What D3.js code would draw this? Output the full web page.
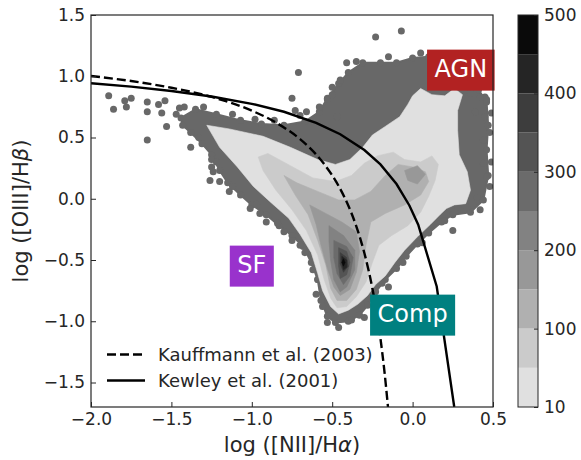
<!DOCTYPE html>
<html>
<head>
<meta charset="utf-8">
<script src="https://cdn.jsdelivr.net/npm/d3@7"></script>
<style>
  body { margin: 0; background: #fff; }
  text { font-family: "DejaVu Sans", sans-serif; }
</style>
</head>
<body>
<svg id="chart" width="581" height="460"></svg>
<script>
// axis ticks
const xTicks = [-2.0, -1.5, -1.0, -0.5, 0.0, 0.5];
const yTicks = [-1.5, -1.0, -0.5, 0.0, 0.5, 1.0, 1.5];

// contour levels (colorbar) and tick labels
const levels = [10, 50, 100, 150, 200, 250, 300, 350, 400, 450, 500];
const cbTicks = [10, 100, 200, 300, 400, 500];

// demarcation lines
const kaufX = [-2.0, -1.75, -1.5, -1.25, -1.0, -0.85, -0.7, -0.65, -0.6, -0.55, -0.5, -0.46, -0.42, -0.385, -0.35, -0.325, -0.3, -0.275, -0.25, -0.225, -0.2, -0.175, -0.153];
const kaufY = [1.002, 0.961, 0.906, 0.831, 0.719, 0.622, 0.487, 0.429, 0.362, 0.283, 0.191, 0.104, 0.002, -0.102, -0.225, -0.327, -0.443, -0.577, -0.733, -0.918, -1.14, -1.411, -1.70];
const kewX = [-2.0, -1.75, -1.5, -1.25, -1.0, -0.8, -0.6, -0.45, -0.3, -0.2, -0.1, -0.02, 0.035, 0.15, 0.259];
const kewY = [0.943, 0.915, 0.880, 0.835, 0.775, 0.710, 0.620, 0.527, 0.398, 0.280, 0.120, -0.055, -0.212, -0.716, -1.70];

// outer envelope of the individual (low density) galaxies
const envelope = [[-1.44,0.66],[-1.35,0.73],[-1.22,0.69],[-1.07,0.64],[-0.94,0.61],[-0.80,0.60],[-0.67,0.63],[-0.58,0.71],[-0.53,0.82],[-0.46,0.94],[-0.40,1.03],[-0.31,1.11],[-0.20,1.11],[-0.10,1.11],[0.00,1.15],[0.10,1.16],[0.30,1.11],[0.41,0.89],[0.46,0.79],[0.47,0.60],[0.46,0.40],[0.47,0.19],[0.44,-0.01],[0.36,-0.11],[0.25,-0.13],[0.18,-0.19],[0.10,-0.28],[0.03,-0.37],[-0.04,-0.47],[-0.10,-0.57],[-0.17,-0.66],[-0.23,-0.76],[-0.28,-0.87],[-0.33,-0.95],[-0.40,-1.00],[-0.48,-1.01],[-0.53,-0.96],[-0.57,-0.83],[-0.59,-0.66],[-0.63,-0.52],[-0.68,-0.39],[-0.75,-0.30],[-0.83,-0.22],[-0.91,-0.13],[-1.00,-0.05],[-1.07,0.03],[-1.15,0.13],[-1.20,0.23],[-1.25,0.36],[-1.31,0.45],[-1.38,0.54],[-1.43,0.60]];

// isolated galaxies outside the envelope
const strays = [[-1.89,0.84],[-1.86,0.73],[-1.79,0.80],[-1.78,0.75],[-1.75,0.82],[-1.65,0.79],[-1.65,0.71],[-1.65,0.48],[-1.58,0.77],[-1.56,0.70],[-1.54,0.80],[-1.53,0.59],[-1.47,0.69],[-1.45,0.74],[-1.42,0.75],[-1.38,0.42],[-1.26,0.15],[-1.20,0.14],[-1.14,0.06],[-1.25,0.26],[-1.25,0.32],[-1.24,0.22],[-1.01,-0.08],[-0.95,-0.12],[-0.91,-0.19],[-0.84,-0.20],[-0.75,0.82],[-0.73,0.72],[-0.66,0.71],[-0.58,0.75],[-0.53,0.81],[-0.50,0.85],[-0.47,0.67],[-0.23,1.32],[-0.07,1.37],[-0.71,1.03],[0.45,0.83],[0.48,0.54],[-0.41,1.11],[-0.50,0.91],[-0.45,0.97],[0.36,0.86],[0.42,0.83],[0.46,0.81],[0.44,0.48],[0.44,0.29],[0.46,0.18],[0.48,0.10],[0.40,0.01],[0.42,-0.09],[0.39,0.71],[0.45,0.67],[-0.75,-0.34],[-0.67,-0.44],[-0.59,-0.66],[-0.56,-0.88],[-0.53,-1.01],[-0.46,-1.05],[-0.38,-0.99],[-0.30,-0.97],[0.25,-0.26],[0.28,-0.07],[0.34,-0.07],[-0.15,-0.72],[-0.19,-0.69],
  [-1.30,0.75],[-1.12,0.69],[-0.98,0.65],[-0.86,0.64],[-0.70,0.68],[-1.33,0.50],[-1.22,0.30],[-1.12,0.10],[-0.97,-0.04],[-0.80,-0.27],[-0.70,-0.38],[-0.62,-0.58],[-0.60,-0.78],[-0.35,1.12],[-0.15,1.16],[0.05,1.19],[0.49,0.70],[0.49,0.30],[0.20,-0.18],[0.06,-0.36],[-0.06,-0.52]];

// filled density contours, one array of polygons per level
const band10 = [[[-1.28,0.60],[-1.14,0.57],[-0.93,0.51],[-0.76,0.42],[-0.59,0.32],[-0.48,0.28],[-0.39,0.32],[-0.31,0.42],[-0.25,0.52],[-0.17,0.59],[-0.08,0.67],[-0.03,0.77],[0.00,0.84],[0.05,0.90],[0.12,0.85],[0.20,0.84],[0.26,0.90],[0.31,0.85],[0.28,0.72],[0.28,0.56],[0.29,0.36],[0.34,0.22],[0.36,0.07],[0.33,-0.04],[0.26,-0.05],[0.21,-0.08],[0.17,-0.13],[0.11,-0.21],[0.03,-0.31],[-0.05,-0.42],[-0.11,-0.52],[-0.17,-0.63],[-0.23,-0.70],[-0.28,-0.79],[-0.34,-0.86],[-0.40,-0.91],[-0.46,-0.94],[-0.51,-0.88],[-0.56,-0.75],[-0.59,-0.61],[-0.63,-0.44],[-0.70,-0.29],[-0.77,-0.16],[-0.89,-0.02],[-0.99,0.10],[-1.09,0.26],[-1.20,0.42]]];
const band50 = [[[-0.96,0.34],[-0.90,0.37],[-0.76,0.27],[-0.62,0.17],[-0.48,0.14],[-0.38,0.19],[-0.30,0.29],[-0.22,0.35],[-0.12,0.38],[-0.05,0.32],[0.05,0.30],[0.12,0.35],[0.16,0.28],[0.14,0.15],[0.10,0.02],[0.05,-0.11],[-0.03,-0.22],[-0.13,-0.30],[-0.21,-0.38],[-0.25,-0.52],[-0.29,-0.68],[-0.35,-0.80],[-0.41,-0.88],[-0.47,-0.89],[-0.51,-0.81],[-0.55,-0.66],[-0.59,-0.46],[-0.66,-0.26],[-0.75,-0.09],[-0.85,0.07],[-0.93,0.23]]];
const band100 = [[[-0.80,0.19],[-0.72,0.13],[-0.59,0.06],[-0.46,-0.01],[-0.36,-0.01],[-0.26,0.06],[-0.17,0.19],[-0.09,0.28],[0.00,0.26],[0.08,0.22],[0.10,0.14],[0.05,0.03],[-0.05,-0.05],[-0.17,-0.12],[-0.26,-0.19],[-0.29,-0.38],[-0.31,-0.58],[-0.35,-0.74],[-0.41,-0.83],[-0.47,-0.83],[-0.51,-0.73],[-0.54,-0.54],[-0.59,-0.34],[-0.65,-0.13],[-0.73,0.03]]];
const band150 = [[[-0.64,-0.05],[-0.54,-0.12],[-0.44,-0.19],[-0.35,-0.27],[-0.33,-0.43],[-0.35,-0.60],[-0.39,-0.74],[-0.45,-0.79],[-0.49,-0.72],[-0.53,-0.57],[-0.57,-0.38],[-0.60,-0.21]],
  [[-0.05,0.23],[0.03,0.27],[0.08,0.20],[0.03,0.12],[-0.03,0.15]]];
const band200 = [[[-0.52,-0.22],[-0.43,-0.30],[-0.36,-0.42],[-0.36,-0.58],[-0.41,-0.72],[-0.45,-0.76],[-0.49,-0.66],[-0.51,-0.50],[-0.52,-0.35]]];
const band250 = [[[-0.49,-0.34],[-0.41,-0.39],[-0.37,-0.48],[-0.39,-0.63],[-0.43,-0.70],[-0.47,-0.61],[-0.49,-0.48]]];
const band300 = [[[-0.46,-0.40],[-0.41,-0.43],[-0.39,-0.52],[-0.41,-0.62],[-0.45,-0.65],[-0.46,-0.55]]];
const band350 = [[[-0.45,-0.44],[-0.41,-0.48],[-0.40,-0.55],[-0.43,-0.60],[-0.45,-0.53]]];
const band400 = [[[-0.44,-0.47],[-0.41,-0.50],[-0.41,-0.56],[-0.43,-0.58],[-0.44,-0.52]]];
const band450 = [[[-0.43,-0.49],[-0.42,-0.52],[-0.43,-0.55],[-0.44,-0.52]]];
const bands = [band10, band50, band100, band150, band200, band250, band300, band350, band400, band450];

// region labels
const regionNames = ["AGN", "SF", "Comp"];
const regionX = [0.3, -1.0, 0.0];
const regionY = [1.05, -0.55, -0.95];

const legendLabels = ["Kauffmann et al. (2003)", "Kewley et al. (2001)"];

// styles
const greys = ["#e0e0e0", "#cbcbcb", "#b0b0b0", "#989898", "#828282", "#6b6b6b", "#545454", "#3d3d3d", "#252525", "#0a0a0a"];
const regionColors = ["#b22222", "#9932cc", "#008080"];
const dotColor = "#686868";
const ink = "#262626";

const svg = d3.select("#chart");
const plotL = 91, plotR = 493, plotT = 15, plotB = 407;

const x = d3.scaleLinear().domain([-2.0, 0.5]).range([plotL, plotR]);
const y = d3.scaleLinear().domain([-1.7, 1.5]).range([plotB, plotT]);

svg.append("defs").append("clipPath").attr("id", "plotclip")
  .append("rect").attr("x", plotL).attr("y", plotT)
  .attr("width", plotR - plotL).attr("height", plotB - plotT);

const plot = svg.append("g").attr("clip-path", "url(#plotclip)");

const poly = d3.line().x(d => x(d[0])).y(d => y(d[1])).curve(d3.curveLinearClosed);

// low density galaxies: a dense crowd along the envelope plus isolated ones
plot.append("path")
  .attr("d", poly(envelope))
  .attr("fill", dotColor)
  .attr("stroke", dotColor)
  .attr("stroke-width", 2)
  .attr("stroke-linejoin", "round");

plot.selectAll("circle.stray")
  .data(envelope.concat(strays))
  .join("circle")
  .attr("class", "stray")
  .attr("cx", d => x(d[0]))
  .attr("cy", d => y(d[1]))
  .attr("r", 3.5)
  .attr("fill", dotColor);

// density contours
bands.forEach((band, i) => {
  plot.append("g").selectAll("path")
    .data(band)
    .join("path")
    .attr("d", poly)
    .attr("fill", greys[i])
    .attr("stroke", greys[i])
    .attr("stroke-width", 0.6);
});

// Kauffmann and Kewley lines
const kaufLine = d3.line().x(d => x(d[0])).y(d => y(d[1])).curve(d3.curveMonotoneX);
plot.append("path")
  .attr("d", kaufLine(kaufX.map((v, i) => [v, kaufY[i]])))
  .attr("fill", "none")
  .attr("stroke", "#000")
  .attr("stroke-width", 2.4)
  .attr("stroke-dasharray", "9,4");

const kewLine = d3.line().x(d => x(d[0])).y(d => y(d[1]));
plot.append("path")
  .attr("d", kewLine(kewX.map((v, i) => [v, kewY[i]])))
  .attr("fill", "none")
  .attr("stroke", "#000")
  .attr("stroke-width", 2.4);

// region labels with boxes
regionNames.forEach((name, i) => {
  const g = svg.append("g");
  const t = g.append("text")
    .attr("x", x(regionX[i]))
    .attr("y", y(regionY[i]))
    .attr("dy", "0.3em")
    .attr("text-anchor", "middle")
    .attr("font-size", 24)
    .attr("fill", "#fff")
    .text(name);
  const bb = t.node().getBBox();
  g.insert("rect", "text")
    .attr("x", bb.x - 7.5)
    .attr("y", y(regionY[i]) - 20.5)
    .attr("width", bb.width + 15)
    .attr("height", 41)
    .attr("fill", regionColors[i]);
});

// axes
const xAxis = svg.append("g")
  .attr("transform", `translate(0,${plotB})`)
  .call(d3.axisBottom(x).tickValues(xTicks).tickFormat(d3.format(".1f"))
    .tickSizeInner(-5).tickSizeOuter(0).tickPadding(6));
const yAxis = svg.append("g")
  .attr("transform", `translate(${plotL},0)`)
  .call(d3.axisLeft(y).tickValues(yTicks).tickFormat(d3.format(".1f"))
    .tickSizeInner(-5).tickSizeOuter(0).tickPadding(6));

[xAxis, yAxis].forEach(a => {
  a.select(".domain").remove();
  a.selectAll("line").attr("stroke", ink).attr("stroke-width", 1);
  a.selectAll("text").attr("font-size", 17).attr("fill", ink)
    .attr("font-family", "DejaVu Sans");
});

svg.append("rect")
  .attr("x", plotL).attr("y", plotT)
  .attr("width", plotR - plotL).attr("height", plotB - plotT)
  .attr("fill", "none").attr("stroke", ink).attr("stroke-width", 1.2);

// axis titles
const xt = svg.append("text")
  .attr("x", (plotL + plotR) / 2).attr("y", 452)
  .attr("text-anchor", "middle").attr("font-size", 21).attr("fill", ink);
xt.append("tspan").text("log ([NII]/H");
xt.append("tspan").attr("font-style", "italic").text("α");
xt.append("tspan").text(")");

const yt = svg.append("text")
  .attr("transform", `translate(28,${(plotT + plotB) / 2}) rotate(-90)`)
  .attr("text-anchor", "middle").attr("font-size", 21).attr("fill", ink);
yt.append("tspan").text("log ([OIII]/H");
yt.append("tspan").attr("font-style", "italic").text("β");
yt.append("tspan").text(")");

// legend
const legY = [354.5, 380.5];
legendLabels.forEach((lab, i) => {
  svg.append("line")
    .attr("x1", 107).attr("x2", 145)
    .attr("y1", legY[i]).attr("y2", legY[i])
    .attr("stroke", "#000").attr("stroke-width", 2.4)
    .attr("stroke-dasharray", i === 0 ? "9,4" : null);
  svg.append("text")
    .attr("x", 158).attr("y", legY[i] + 6.5)
    .attr("font-size", 18).attr("fill", ink)
    .text(lab);
});

// colorbar
const cbLeft = 518, cbRight = 538;
const cb = d3.scalePoint().domain(levels).range([plotB, plotT]);
svg.append("g").selectAll("rect")
  .data(d3.range(levels.length - 1))
  .join("rect")
  .attr("x", cbLeft)
  .attr("width", cbRight - cbLeft)
  .attr("y", i => cb(levels[i + 1]))
  .attr("height", i => cb(levels[i]) - cb(levels[i + 1]))
  .attr("fill", i => greys[i]);
svg.append("rect")
  .attr("x", cbLeft).attr("y", plotT)
  .attr("width", cbRight - cbLeft).attr("height", plotB - plotT)
  .attr("fill", "none").attr("stroke", ink).attr("stroke-width", 1);
const cbAxis = svg.append("g")
  .attr("transform", `translate(${cbRight},0)`)
  .call(d3.axisRight(cb).tickValues(cbTicks).tickSizeInner(-4).tickSizeOuter(0).tickPadding(6));
cbAxis.select(".domain").remove();
cbAxis.selectAll("line").attr("stroke", ink);
cbAxis.selectAll("text").attr("font-size", 17).attr("fill", ink)
  .attr("font-family", "DejaVu Sans");
</script>
</body>
</html>
